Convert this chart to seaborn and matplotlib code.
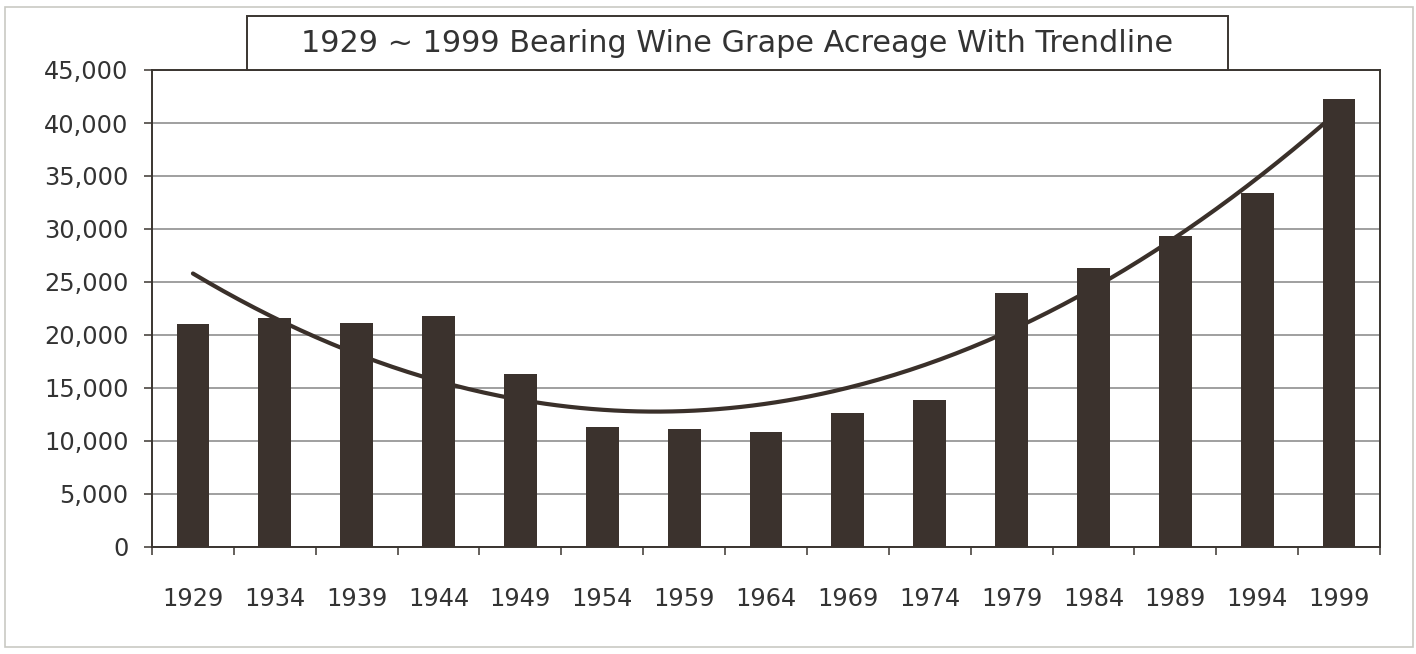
import numpy as np
import pandas as pd
import matplotlib
matplotlib.use("Agg")
import matplotlib.pyplot as plt
from matplotlib.patches import Rectangle
from matplotlib.ticker import FuncFormatter, FixedLocator
import seaborn as sns

# ---- data ----
years = ["1929", "1934", "1939", "1944", "1949", "1954", "1959", "1964",
         "1969", "1974", "1979", "1984", "1989", "1994", "1999"]
acreage = [21000, 21630, 21100, 21820, 16320, 11350, 11160, 10820,
           12610, 13840, 23930, 26350, 29340, 33370, 42240]
title = "1929 ~ 1999 Bearing Wine Grape Acreage With Trendline"

sns.set_theme(style="white")
plt.rcParams['font.family'] = ['DejaVu Sans']

W, H = 1416, 654
fig = plt.figure(figsize=(W / 100, H / 100), dpi=100, facecolor="white")
ax = fig.add_axes([152 / W, 1 - 547 / H, (1380 - 152) / W, (547 - 70) / H])
ax.set_facecolor("white")

bar_color = "#3b322d"
text_color = "#333333"
edge_color = "#3a3530"

df = pd.DataFrame({"year": years, "acreage": acreage})
sns.barplot(data=df, x="year", y="acreage", color=bar_color, width=0.4,
            saturation=1, ax=ax, zorder=3, edgecolor=bar_color, linewidth=0)

# polynomial (order 2) trendline computed from the bar values
xs = np.arange(len(years))
coef = np.polyfit(xs, acreage, 2)
xf = np.linspace(0, len(years) - 1, 300)
ax.plot(xf, np.polyval(coef, xf), color="#3a302a", lw=3.0, zorder=2,
        solid_capstyle="round")

ax.set_xlim(-0.5, len(years) - 0.5)
ax.set_ylim(0, 45000)
ax.set_yticks(np.arange(0, 45001, 5000))
ax.yaxis.set_major_formatter(FuncFormatter(lambda v, p: f"{int(v):,}"))
ax.yaxis.grid(True, color="#858585", lw=1.1)
ax.set_axisbelow(True)

ax.set_xlabel("")
ax.set_ylabel("")
ax.tick_params(axis="x", which="major", length=0, pad=29, labelsize=17.3,
               labelcolor=text_color)
ax.xaxis.set_minor_locator(FixedLocator(np.arange(-0.5, len(years), 1.0)))
ax.tick_params(axis="x", which="minor", length=6, width=1.1, direction="out",
               color=edge_color, bottom=True)
ax.tick_params(axis="y", which="major", length=6, width=1.1, direction="out",
               color=edge_color, left=True, pad=11, labelsize=17.3,
               labelcolor=text_color)

for s in ax.spines.values():
    s.set_visible(True)
    s.set_color(edge_color)
    s.set_linewidth(1.4)

# outer frame
fig.patches.append(Rectangle((5 / W, 1 - 647 / H), (1413 - 5) / W, (647 - 7) / H,
                             transform=fig.transFigure, fill=False,
                             edgecolor="#c9c9c4", lw=1.2, zorder=0))
# title box
fig.patches.append(Rectangle((247 / W, 1 - 70 / H), (1228 - 247) / W, (70 - 16) / H,
                             transform=fig.transFigure, facecolor="white",
                             edgecolor=edge_color, lw=1.4, zorder=5))
fig.text((247 + 1228) / 2 / W, 1 - 43 / H, title, ha="center", va="center",
         fontsize=21.8, color=text_color, zorder=6)

fig.savefig("out.png", dpi=100, facecolor="white")
